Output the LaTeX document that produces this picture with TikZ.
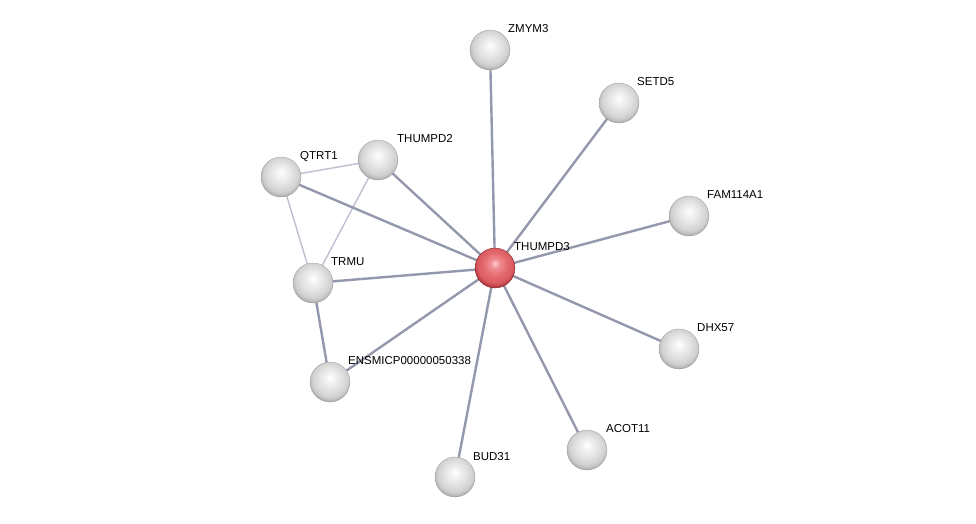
\documentclass[tikz,border=0pt]{standalone}
\usepackage{fontspec}
\setmainfont{Liberation Sans}
\pgfdeclareradialshading{graysphere}{\pgfpoint{0bp}{6bp}}{color(0bp)=(white);color(6bp)=(white!95!black);color(15bp)=(white!88!black);color(22bp)=(white!82!black);color(26bp)=(white!72!black);color(29bp)=(white!52!black);color(31.5bp)=(white!32!black);color(50bp)=(white!32!black)}
\pgfdeclareradialshading{redsphere}{\pgfpoint{0bp}{6bp}}{color(0bp)=(red!20!white);color(6bp)=({rgb,255:red,238;green,140;blue,145});color(15bp)=({rgb,255:red,228;green,105;blue,110});color(22bp)=({rgb,255:red,218;green,92;blue,97});color(26bp)=({rgb,255:red,185;green,60;blue,65});color(29bp)=({rgb,255:red,140;green,35;blue,40});color(31.5bp)=({rgb,255:red,100;green,20;blue,25});color(50bp)=({rgb,255:red,100;green,20;blue,25})}
\begin{document}
\begin{tikzpicture}[x=1pt,y=-1pt,
  prot/.style={circle,minimum size=40pt,inner sep=0pt,shading=graysphere,draw=white!60!black,line width=0.3pt},
  seed/.style={prot,shading=redsphere,draw={rgb,255:red,120;green,30;blue,35}},
  lbl/.style={anchor=base west,font=\fontsize{11.5}{13}\selectfont,inner sep=0pt},
  edge/.style={draw={rgb,255:red,148;green,152;blue,172},line width=2.4pt},
  weak/.style={draw={rgb,255:red,190;green,192;blue,208},line width=1.4pt}]
\useasboundingbox (0,0) rectangle (976,523);
\fill[white] (0,0) rectangle (976,523);
\coordinate (cZ) at (490,50);
\coordinate (cS) at (619,103);
\coordinate (cF) at (689,216);
\coordinate (cD) at (679,349);
\coordinate (cA) at (587,450);
\coordinate (cB) at (455,477);
\coordinate (cE) at (330,382);
\coordinate (cT) at (313,283);
\coordinate (cQ) at (281,177);
\coordinate (cP) at (378,160);
\coordinate (cC) at (495,268);
% edges
\draw[weak] (cQ) -- (cP);
\draw[weak] (cQ) -- (cT);
\draw[weak] (cP) -- (cT);
\draw[edge] (cT) -- (cE);
\foreach \n in {cZ,cS,cF,cD,cA,cB,cE,cT,cQ,cP} \draw[edge] (cC) -- (\n);
% nodes
\node[prot] (ZMYM3) at (cZ) {};
\node[prot] (SETD5) at (cS) {};
\node[prot] (FAM) at (cF) {};
\node[prot] (DHX) at (cD) {};
\node[prot] (ACOT) at (cA) {};
\node[prot] (BUD) at (cB) {};
\node[prot] (ENS) at (cE) {};
\node[prot] (TRMU) at (cT) {};
\node[prot] (QTRT) at (cQ) {};
\node[prot] (THUMPD2) at (cP) {};
\node[seed] (THUMPD3) at (cC) {};
% labels
\node[lbl] (lZ) at (508,32) {ZMYM3};
\node[lbl] (lS) at (637,85) {SETD5};
\node[lbl] (lF) at (707,198) {FAM114A1};
\node[lbl] (lD) at (697,331) {DHX57};
\node[lbl] (lA) at (606,432) {ACOT11};
\node[lbl] (lB) at (473,460) {BUD31};
\node[lbl] (lE) at (348,364) {ENSMICP00000050338};
\node[lbl] (lT) at (331,265) {TRMU};
\node[lbl] (lQ) at (300,159) {QTRT1};
\node[lbl] (lP) at (397,142) {THUMPD2};
\node[lbl] (lC) at (514,250) {THUMPD3};
\end{tikzpicture}
\end{document}
